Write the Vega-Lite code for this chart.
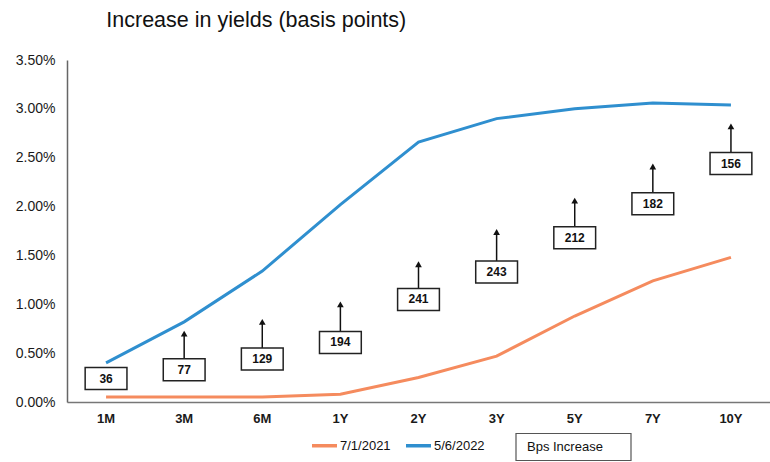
{
  "$schema": "https://vega.github.io/schema/vega-lite/v6.json",
  "autosize": "none",
  "width": 703,
  "height": 342,
  "padding": {"left": 67, "top": 60, "right": 0, "bottom": 60},
  "background": "white",
  "config": {
    "font": "Liberation Sans",
    "view": {"stroke": null},
    "axis": {"grid": false, "ticks": false, "domainColor": "#666", "domainWidth": 1.5, "labelFont": "Liberation Sans", "labelColor": "#1a1a1a", "title": null}
  },
  "title": {
    "text": "Increase in yields (basis points)",
    "anchor": "start",
    "dx": 91,
    "offset": 22,
    "fontSize": 21.5,
    "fontWeight": "normal",
    "font": "Liberation Sans",
    "color": "#111"
  },
  "datasets": {
    "curves": [
      {"tenor": "1M", "date": "7/1/2021", "yield": 0.05},
      {"tenor": "3M", "date": "7/1/2021", "yield": 0.05},
      {"tenor": "6M", "date": "7/1/2021", "yield": 0.05},
      {"tenor": "1Y", "date": "7/1/2021", "yield": 0.08},
      {"tenor": "2Y", "date": "7/1/2021", "yield": 0.25},
      {"tenor": "3Y", "date": "7/1/2021", "yield": 0.47},
      {"tenor": "5Y", "date": "7/1/2021", "yield": 0.88},
      {"tenor": "7Y", "date": "7/1/2021", "yield": 1.24},
      {"tenor": "10Y", "date": "7/1/2021", "yield": 1.48},
      {"tenor": "1M", "date": "5/6/2022", "yield": 0.40},
      {"tenor": "3M", "date": "5/6/2022", "yield": 0.82},
      {"tenor": "6M", "date": "5/6/2022", "yield": 1.34},
      {"tenor": "1Y", "date": "5/6/2022", "yield": 2.02},
      {"tenor": "2Y", "date": "5/6/2022", "yield": 2.66},
      {"tenor": "3Y", "date": "5/6/2022", "yield": 2.90},
      {"tenor": "5Y", "date": "5/6/2022", "yield": 3.00},
      {"tenor": "7Y", "date": "5/6/2022", "yield": 3.06},
      {"tenor": "10Y", "date": "5/6/2022", "yield": 3.04}
    ],
    "bps": [
      {"tenor": "1M", "bps": 36, "boxY": 0.24, "arrowTo": null, "kind": "Bps Increase"},
      {"tenor": "3M", "bps": 77, "boxY": 0.33, "arrowTo": 0.70, "kind": "Bps Increase"},
      {"tenor": "6M", "bps": 129, "boxY": 0.44, "arrowTo": 0.82, "kind": "Bps Increase"},
      {"tenor": "1Y", "bps": 194, "boxY": 0.61, "arrowTo": 1.00, "kind": "Bps Increase"},
      {"tenor": "2Y", "bps": 241, "boxY": 1.05, "arrowTo": 1.41, "kind": "Bps Increase"},
      {"tenor": "3Y", "bps": 243, "boxY": 1.33, "arrowTo": 1.74, "kind": "Bps Increase"},
      {"tenor": "5Y", "bps": 212, "boxY": 1.68, "arrowTo": 2.06, "kind": "Bps Increase"},
      {"tenor": "7Y", "bps": 182, "boxY": 2.03, "arrowTo": 2.41, "kind": "Bps Increase"},
      {"tenor": "10Y", "bps": 156, "boxY": 2.44, "arrowTo": 2.82, "kind": "Bps Increase"}
    ]
  },
  "encoding": {
    "x": {
      "field": "tenor",
      "type": "nominal",
      "sort": ["1M", "3M", "6M", "1Y", "2Y", "3Y", "5Y", "7Y", "10Y"],
      "scale": {"paddingInner": 0, "paddingOuter": 0},
      "axis": {"labelAngle": 0, "labelFontSize": 13, "labelFontWeight": "bold", "labelPadding": 10, "domainColor": "#777"}
    }
  },
  "layer": [
    {
      "data": {"name": "curves"},
      "mark": {"type": "line", "strokeWidth": 3},
      "encoding": {
        "y": {
          "field": "yield",
          "type": "quantitative",
          "scale": {"domain": [0, 3.5], "nice": false},
          "axis": {"values": [0, 0.5, 1, 1.5, 2, 2.5, 3, 3.5], "labelExpr": "format(datum.value, '.2f') + '%'", "labelFontSize": 14, "labelPadding": 12, "domainColor": "#666"}
        },
        "color": {
          "field": "date",
          "type": "nominal",
          "scale": {"domain": ["7/1/2021", "5/6/2022"], "range": ["#F58B5E", "#2F8FCF"]},
          "legend": {
            "orient": "none",
            "legendX": 243,
            "legendY": 371,
            "direction": "horizontal",
            "title": null,
            "symbolType": "stroke",
            "symbolSize": 625,
            "symbolStrokeWidth": 3.5,
            "labelFontSize": 13,
            "labelColor": "#111",
            "labelOffset": 1,
            "columnPadding": 8
          }
        }
      }
    },
    {
      "data": {"name": "bps"},
      "transform": [{"filter": "datum.arrowTo != null"}],
      "mark": {"type": "rule", "color": "#111", "strokeWidth": 1.5},
      "encoding": {
        "y": {"field": "boxY", "type": "quantitative"},
        "y2": {"field": "arrowTo"}
      }
    },
    {
      "data": {"name": "bps"},
      "transform": [{"filter": "datum.arrowTo != null"}],
      "mark": {"type": "point", "shape": "triangle-up", "filled": true, "color": "#111", "size": 45, "opacity": 1},
      "encoding": {
        "y": {"field": "arrowTo", "type": "quantitative"}
      }
    },
    {
      "data": {"name": "bps"},
      "mark": {"type": "point", "shape": "M-1.9,-1H1.9V1H-1.9Z", "filled": false, "fill": "white", "fillOpacity": 1, "stroke": "#222", "strokeWidth": 1.5, "size": 484, "opacity": 1},
      "encoding": {
        "y": {"field": "boxY", "type": "quantitative"}
      }
    },
    {
      "data": {"name": "bps"},
      "transform": [{"filter": "datum.bps < 0"}],
      "mark": {"type": "point", "filled": false, "stroke": "#555555", "strokeWidth": 1.2, "opacity": 1},
      "encoding": {
        "y": {"field": "boxY", "type": "quantitative"},
        "shape": {
          "field": "kind",
          "type": "nominal",
          "scale": {"domain": ["Bps Increase"], "range": ["M0,-1.35H11.5V1.35H0Z"]},
          "legend": {
            "orient": "none",
            "legendX": 438,
            "legendY": 376,
            "title": null,
            "symbolSize": 400,
            "symbolStrokeColor": "#555555",
            "symbolStrokeWidth": 1.2,
            "symbolFillColor": "transparent",
            "labelFontSize": 13,
            "labelColor": "#111",
            "labelOffset": 0
          }
        }
      }
    },
    {
      "data": {"name": "bps"},
      "mark": {"type": "text", "fontSize": 12, "fontWeight": "bold", "color": "#111", "baseline": "middle", "align": "center"},
      "encoding": {
        "y": {"field": "boxY", "type": "quantitative"},
        "text": {"field": "bps", "type": "quantitative"}
      }
    }
  ]
}
